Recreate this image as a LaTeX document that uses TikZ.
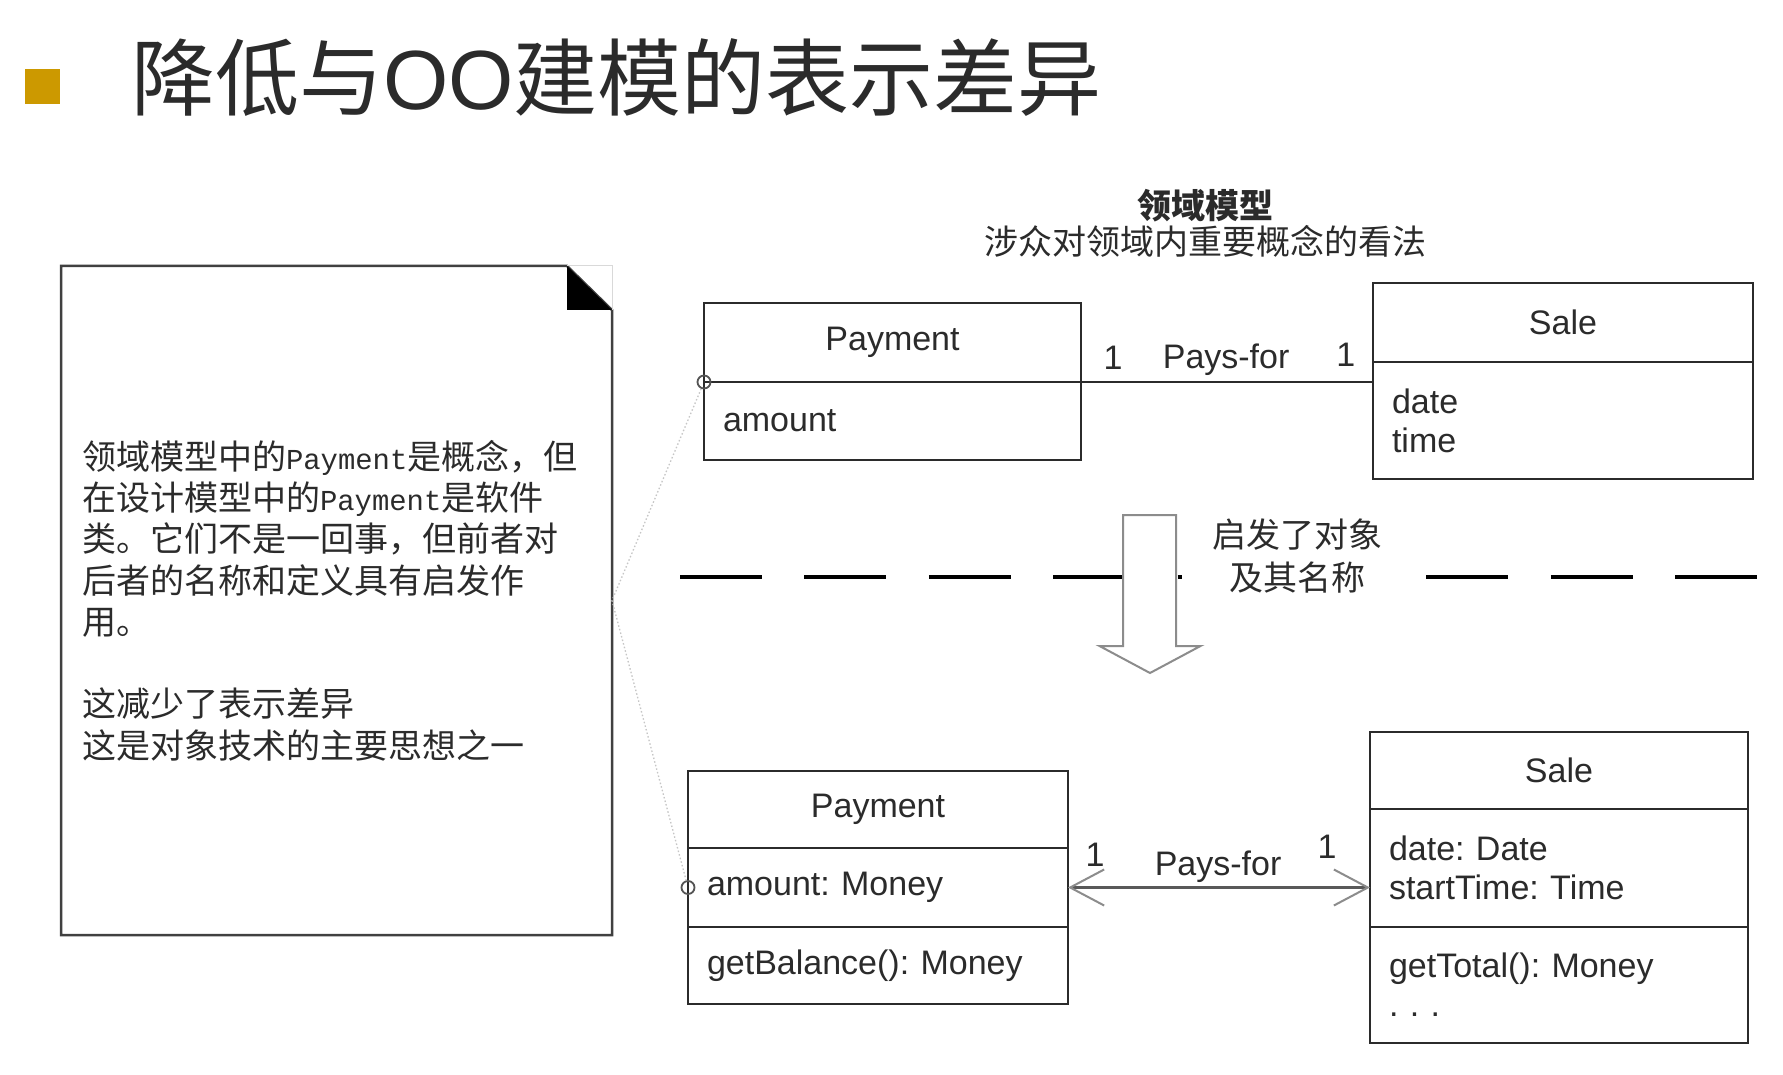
\documentclass[tikz,border=0pt]{standalone}
\usepackage{fontspec}
\setmainfont{Liberation Sans}
\newfontfamily\cjkfont{Noto Sans CJK SC}
\newfontfamily\notemono[Scale=0.85]{Liberation Mono}
\usetikzlibrary{positioning, calc, arrows.meta}
\definecolor{bulletgold}{HTML}{CC9900}
\definecolor{inkdark}{HTML}{2B2B2B}
\definecolor{linegray}{HTML}{8C8C8C}
\newcommand{\pmono}[1]{\mbox{\notemono #1}}
\frenchspacing

\tikzset{
  umlpart/.style={draw=inkdark, line width=2pt, outer sep=0pt, inner xsep=19pt, inner ysep=0pt,
    text=inkdark, font=\fontsize{34}{39}\selectfont},
  umlhead/.style={umlpart, align=center},
  umlattr/.style={umlpart, align=left},
  mult/.style={text=inkdark, font=\fontsize{34}{39}\selectfont, inner sep=4pt},
  pincircle/.style={circle, draw=linegray!60!black, line width=1.8pt, minimum size=13pt, inner sep=0pt},
  tether/.style={draw=gray!45, line width=1.3pt, dash pattern=on 1.5pt off 2.2pt},
  cjktext/.style={text=inkdark, font=\cjkfont\fontsize{34}{41.3}\selectfont},
  notebox/.style={cjktext, minimum width=551pt, minimum height=669pt, text width=509pt,
    inner xsep=21pt, inner ysep=0pt, align=left, outer sep=0pt},
  noteline/.style={draw=black!75, line width=2.5pt, line join=miter},
  sepline/.style={draw=black, line width=4pt, dash pattern=on 82pt off 42.4pt},
  blockarrow/.style={draw=linegray, fill=white, line width=2pt, line join=miter},
}

\begin{document}
\begin{tikzpicture}[x=1pt, y=-1pt]
    \fill[white] (0,0) rectangle (1783,1075);
    \useasboundingbox (0,0) rectangle (1783,1075);

    % Title
    \node[fill=bulletgold, minimum size=35pt, inner sep=0pt] (bullet) at (42.5,86.5) {};
    \node[anchor=west, inner sep=0pt, text=inkdark, font=\fontsize{84}{84}\selectfont] (title) at (131,78)
        {{\cjkfont 降低与}OO{\cjkfont 建模的表示差异}};

    % Domain model heading
    \node[cjktext, align=center, font=\cjkfont\fontsize{34}{36}\selectfont] (dmtitle) at (1205,223)
        {{\bfseries 领域模型}\\涉众对领域内重要概念的看法};

    % Note
    \node[notebox] (note) at (336.5,600.5) {
        领域模型中的\pmono{Payment}是概念，但\\
        在设计模型中的\pmono{Payment}是软件\\
        类。它们不是一回事，但前者对\\
        后者的名称和定义具有启发作\\
        用。\\[41.3pt]
        这减少了表示差异\\
        这是对象技术的主要思想之一
    };
    \draw[noteline] (note.north west) -- ($(note.north east)+(-45,0)$) coordinate (earA)
        -- ($(note.north east)+(0,44)$) coordinate (earB) -- (note.south east) -- (note.south west) -- cycle;
    \fill[black] (earA) -- (earA |- earB) -- (earB) -- cycle;
    \draw[gray!30, line width=1pt] (earA) -- (note.north east) -- (earB);

    % Domain model classes
    \node[umlhead, minimum width=377pt, minimum height=79pt, anchor=north west] (dpay1) at (704,303) {Payment};
    \node[umlattr, minimum width=377pt, text width=339pt, minimum height=78pt, below=0pt of dpay1] (dpay2) {amount};

    \node[umlhead, minimum width=380pt, minimum height=79pt, anchor=north west] (dsale1) at (1373,283) {Sale};
    \node[umlattr, minimum width=380pt, text width=342pt, minimum height=117pt, below=0pt of dsale1] (dsale2) {date\\time};

    \draw[draw=inkdark, line width=2pt] (dpay1.south east) -- (dpay1.south east -| dsale2.west)
        node[mult, pos=0.11, above=8pt] {1}
        node[mult, pos=0.497, above=1pt] {Pays-for}
        node[mult, pos=0.907, above=11pt] {1};

    % Separator and inspiration arrow
    \coordinate (sepL) at (680,577);
    \coordinate (sepR) at (1758,577);
    \draw[sepline] (sepL) -- (sepR);
    \draw[blockarrow] (1123,515) -- (1176,515) -- (1176,646) -- (1200.5,646) -- (1150,673)
        -- (1099.5,646) -- (1123,646) -- cycle;
    \node[cjktext, fill=white, align=center, inner xsep=30pt, inner ysep=2pt,
        font=\cjkfont\fontsize{34}{43}\selectfont] (hint) at (1297,556) {启发了对象\\及其名称};

    % Design model classes
    \node[umlhead, minimum width=380pt, minimum height=77pt, anchor=north west] (spay1) at (688,771) {Payment};
    \node[umlattr, minimum width=380pt, text width=342pt, minimum height=79pt, below=0pt of spay1] (spay2) {amount: Money};
    \node[umlattr, minimum width=380pt, text width=342pt, minimum height=77pt, below=0pt of spay2] (spay3) {getBalance(): Money};

    \node[umlhead, minimum width=378pt, minimum height=77pt, anchor=north west] (ssale1) at (1370,732) {Sale};
    \node[umlattr, minimum width=378pt, text width=340pt, minimum height=118pt, below=0pt of ssale1] (ssale2) {date: Date\\startTime: Time};
    \node[umlattr, minimum width=378pt, text width=340pt, minimum height=116pt, below=0pt of ssale2] (ssale3) {getTotal(): Money\\. . .};

    \draw[draw=black!65, line width=2.5pt,
        {Straight Barb[length=34pt, width=36pt, line width=2pt, color=linegray]}-{Straight Barb[length=34pt, width=36pt, line width=2pt, color=linegray]}]
        (spay2.east) -- (spay2.east -| ssale2.west)
        node[mult, pos=0.09, above=16pt] {1}
        node[mult, pos=0.497, above=0pt] {Pays-for}
        node[mult, pos=0.858, above=24pt] {1};

    % Trace from note to both Payment classes
    \node[pincircle] (dpin) at (dpay1.south west) {};
    \node[pincircle] (spin) at (spay2.west) {};
    \draw[tether] (dpin) -- (note.east) -- (spin);
\end{tikzpicture}
\end{document}
